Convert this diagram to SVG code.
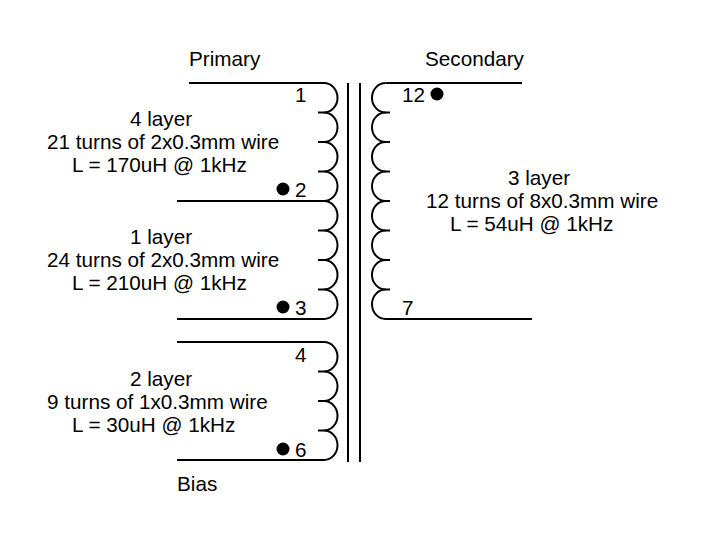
<svg xmlns="http://www.w3.org/2000/svg" width="708" height="543" viewBox="0 0 708 543">
<style>
text{font-family:"Liberation Sans",Arial,sans-serif;font-size:20.7px;fill:#000}
.w{fill:none;stroke:#000;stroke-width:2}
.d{fill:#000}
</style>
<defs>
<path id="pl" class="w" d="M324,0 A13.5,14.75 0 0 1 324,29.5 H318"/>
<path id="sl" class="w" d="M385.5,0 A13.5,14.75 0 0 0 385.5,29.5 H390"/>
</defs>
<rect width="708" height="543" fill="#fff"/>
<g id="connectors">
<path class="w" d="M348,83V462M360,83V462"/>
<path class="w" d="M189,83H324M177,201H324M177,319H324M177,342H324M177,460H324M522,83H385.5M532,319H385.5"/>
</g>
<g id="primary-winding">
<use href="#pl" y="83"/><use href="#pl" y="112.5"/><use href="#pl" y="142"/><use href="#pl" y="171.5"/>
<use href="#pl" y="201"/><use href="#pl" y="230.5"/><use href="#pl" y="260"/><use href="#pl" y="289.5"/>
<text x="295" y="102">1</text><circle class="d" cx="283" cy="189" r="6.5"/><text x="295" y="197">2</text>
<circle class="d" cx="283" cy="307" r="6.5"/><text x="295" y="315">3</text>
<text x="189" y="66">Primary</text>
<text x="130" y="126">4 layer</text><text x="47" y="149">21 turns of 2x0.3mm wire</text><text x="72" y="172">L = 170uH @ 1kHz</text>
<text x="130" y="244">1 layer</text><text x="47" y="267">24 turns of 2x0.3mm wire</text><text x="72" y="290">L = 210uH @ 1kHz</text>
</g>
<g id="bias-winding">
<use href="#pl" y="342"/><use href="#pl" y="371.5"/><use href="#pl" y="401"/><use href="#pl" y="430.5"/>
<text x="295" y="362">4</text><circle class="d" cx="283" cy="449" r="6.5"/><text x="295" y="457">6</text>
<text x="130" y="386">2 layer</text><text x="47" y="409">9 turns of 1x0.3mm wire</text><text x="72" y="432">L = 30uH @ 1kHz</text>
<text x="177" y="491">Bias</text>
</g>
<g id="secondary-winding">
<use href="#sl" y="83"/><use href="#sl" y="112.5"/><use href="#sl" y="142"/><use href="#sl" y="171.5"/>
<use href="#sl" y="201"/><use href="#sl" y="230.5"/><use href="#sl" y="260"/><use href="#sl" y="289.5"/>
<text x="402" y="102">12</text><circle class="d" cx="437" cy="94" r="6.5"/><text x="402" y="315">7</text>
<text x="425" y="66">Secondary</text>
<text x="508" y="185">3 layer</text><text x="426" y="208">12 turns of 8x0.3mm wire</text><text x="450" y="231">L = 54uH @ 1kHz</text>
</g>
</svg>
